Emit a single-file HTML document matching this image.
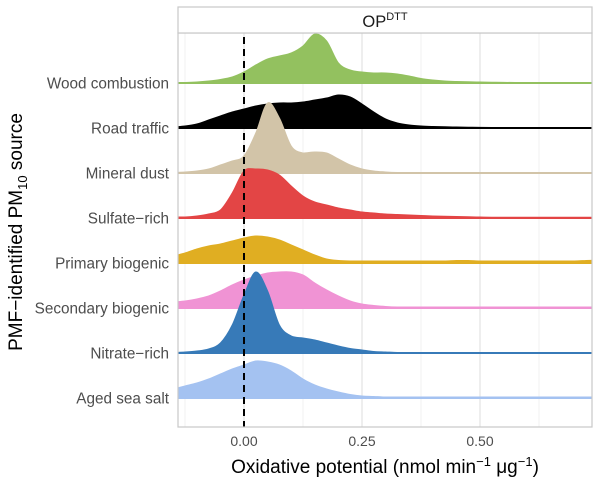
<!DOCTYPE html>
<html><head><meta charset="utf-8"><style>
body{margin:0;background:#fff;}
svg{display:block;font-family:"Liberation Sans",Arial,sans-serif;}
</style></head><body>
<svg id="chart" width="600" height="485" viewBox="0 0 600 485">
<defs><clipPath id="pc"><rect x="178" y="33" width="414" height="394"/></clipPath></defs>
<rect x="178" y="33" width="414" height="394" fill="#fff"/>
<g id="grid"></g>
<g id="ridges" clip-path="url(#pc)"></g>
<line x1="244" y1="37" x2="244" y2="427" stroke="#000" stroke-width="2" stroke-dasharray="7,5"/>
<rect x="178" y="33" width="414" height="394" fill="none" stroke="#c8c8c8" stroke-width="1.2"/>
<rect x="178" y="7" width="414" height="26" fill="#fff" stroke="#c8c8c8" stroke-width="1.2"/>
<text x="385" y="27" text-anchor="middle" font-size="16.5" fill="#1a1a1a">OP<tspan dy="-7" font-size="11">DTT</tspan></text>
<g id="ylabels"></g>
<g id="xlabels"></g>
<text x="385" y="473" text-anchor="middle" font-size="19" fill="#000">Oxidative potential (nmol min<tspan dy="-7" font-size="13">−1</tspan><tspan dy="7"> μg</tspan><tspan dy="-7" font-size="13">−1</tspan><tspan dy="7">)</tspan></text>
<text transform="translate(22,232) rotate(-90)" text-anchor="middle" font-size="19" fill="#000">PMF−identified PM<tspan dy="5" font-size="13">10</tspan><tspan dy="-5"> source</tspan></text>
</svg>
<script>
const categories = ["Wood combustion","Road traffic","Mineral dust","Sulfate−rich","Primary biogenic","Secondary biogenic","Nitrate−rich","Aged sea salt"];
const colors = ["#93c15f","#000000","#d2c4a8","#e34545","#e0ae22","#f093d4","#377ab8","#a4c2f1"];
const gridX = [-0.15,-0.125,-0.1,-0.075,-0.05,-0.025,0,0.025,0.05,0.075,0.1,0.125,0.15,0.175,0.2,0.225,0.25,0.275,0.3,0.325,0.35,0.375,0.4,0.425,0.45,0.475,0.5,0.525,0.55,0.575,0.6,0.625,0.65,0.675,0.7,0.725,0.75];
const woodDensity = [0.3,0.5,1,2,3.5,6,11,18,24,27,30,37,49,42,20,13,11,10,10,9,7,4.5,3,2,1.5,1.2,1,0.8,0.6,0.5,0.5,0.5,0.5,0.5,0.5,0.5,0.5];
const roadDensity = [1,2,4,8,12,16,19,22,24,25,25,26,28,30,33,31,24,16,9,5,3,2,1.5,1.2,1,0.8,0.6,0.5,0.5,0.5,0.5,0.5,0.5,0.5,0.5,0.5,0.5];
const mineralDensity = [0.5,1,2,4,8,12,17,40,70,55,27,20,21,20,14,8,4,2,1,0.5,0.5,0.5,0.5,0.5,0.5,0.5,0.5,0.5,0.5,0.5,0.5,0.5,0.5,0.5,0.5,0.5,0.5];
const sulfateDensity = [1,1,2,4,8,25,47,49,48,43,32,22,16,13,10,8,6,5,4,3.5,3,2.5,2,1.7,1.5,1.2,1,0.8,0.8,0.8,0.8,0.8,0.8,0.8,0.8,0.8,0.8];
const primaryDensity = [7,10,14,17,19,22,25,27,26,23,18,13,8,4,2.5,2,2,2,2,2,2,2,2,2,2.5,2.5,2,2,2,2,2,2,2,2,2,2.5,3];
const secondaryDensity = [6,7,9,12,17,23,28,32,35,36,36,33,25,18,12,7,4,2.5,1.5,1,1,1,1,1,1,1,1,1,1,1,1,1,1,1,1,1,1];
const nitrateDensity = [0.5,1,2,4,10,28,58,81,62,28,17,15,13,10,7,4.5,3,1.5,1,0.5,0.5,0.5,0.5,0.5,0.5,0.5,0.5,0.5,0.5,0.5,0.5,0.5,0.5,0.5,0.5,0.5,0.5];
const agedDensity = [9,12,15,19,24,29,33,37,36,33,27,19,13,9,6,3.5,2,1.5,1,1,1,1,1,1,1,1,1,1,1,1,1,1,1,1,1,1,1];
const majorTicks = [0, 0.25, 0.5];
const tickLabels = ["0.00","0.25","0.50"];
const minorTicks = [-0.125, 0.125, 0.375, 0.625];

const series = [woodDensity,roadDensity,mineralDensity,sulfateDensity,primaryDensity,secondaryDensity,nitrateDensity,agedDensity];
const NS = "http://www.w3.org/2000/svg";
function xScale(v){ return 244 + v * 472; }
function yBase(i){ return 83 + i * 45.0; }
function hScale(d){ return d * 1.0; }

const grid = document.getElementById('grid');
minorTicks.forEach(t => {
  const l = document.createElementNS(NS,'line');
  l.setAttribute('x1',xScale(t)); l.setAttribute('x2',xScale(t));
  l.setAttribute('y1',33); l.setAttribute('y2',427);
  l.setAttribute('stroke','#f2f2f2'); l.setAttribute('stroke-width','1');
  
  
  grid.appendChild(l);
});
majorTicks.forEach((t,k) => {
  const l = document.createElementNS(NS,'line');
  l.setAttribute('x1',xScale(t)); l.setAttribute('x2',xScale(t));
  l.setAttribute('y1',33); l.setAttribute('y2',427);
  l.setAttribute('stroke','#e8e8e8'); l.setAttribute('stroke-width','1.5');
  
  
  grid.appendChild(l);
  const tx = document.createElementNS(NS,'text');
  tx.setAttribute('x',xScale(t)); tx.setAttribute('y',446);
  tx.setAttribute('text-anchor','middle'); tx.setAttribute('font-size','14'); tx.setAttribute('fill','#4d4d4d');
  tx.textContent = tickLabels[k];
  
  
  document.getElementById('xlabels').appendChild(tx);
});

function smoothPath(pts){
  let d = "";
  for(let i=0;i<pts.length-1;i++){
    const p0 = pts[Math.max(0,i-1)], p1 = pts[i], p2 = pts[i+1], p3 = pts[Math.min(pts.length-1,i+2)];
    const c1x = p1[0] + (p2[0]-p0[0])/6, c1y = p1[1] + (p2[1]-p0[1])/6;
    const c2x = p2[0] - (p3[0]-p1[0])/6, c2y = p2[1] - (p3[1]-p1[1])/6;
    d += ` C${c1x},${Math.min(c1y,Math.max(p1[1],p2[1]))} ${c2x},${Math.min(c2y,Math.max(p1[1],p2[1]))} ${p2[0]},${p2[1]}`;
  }
  return d;
}

const ridges = document.getElementById('ridges');
series.forEach((vals,i) => {
  const b = yBase(i);
  const pts = gridX.map((x,j) => [xScale(x), b - hScale(vals[j])]);
  const d = `M${pts[0][0]},${b} L${pts[0][0]},${pts[0][1]}` + smoothPath(pts) + ` L${pts[pts.length-1][0]},${b} Z`;
  const p = document.createElementNS(NS,'path');
  p.setAttribute('d',d); p.setAttribute('fill',colors[i]);
  p.setAttribute('stroke',colors[i]); p.setAttribute('stroke-width','1');
  
  
  ridges.appendChild(p);
  const bl = document.createElementNS(NS,'line');
  bl.setAttribute('x1',178); bl.setAttribute('x2',592);
  bl.setAttribute('y1',b); bl.setAttribute('y2',b);
  bl.setAttribute('stroke',colors[i]); bl.setAttribute('stroke-width','2');
  
  
  ridges.appendChild(bl);
  const t = document.createElementNS(NS,'text');
  t.setAttribute('x',169); t.setAttribute('y',b+5.5);
  t.setAttribute('text-anchor','end'); t.setAttribute('font-size','15.3'); t.setAttribute('fill','#4d4d4d');
  t.textContent = categories[i];
  
  
  document.getElementById('ylabels').appendChild(t);
});
</script>
</body></html>
